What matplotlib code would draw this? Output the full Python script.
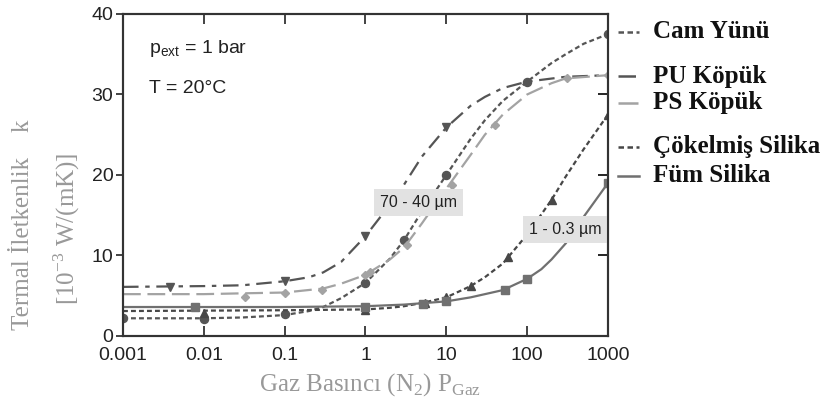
import matplotlib
matplotlib.use("Agg")
import matplotlib.pyplot as plt
from matplotlib.lines import Line2D

plt.rcParams['font.family'] = ['Liberation Sans', 'DejaVu Sans']
plt.rcParams['mathtext.fontset'] = 'custom'
plt.rcParams['mathtext.rm'] = 'Liberation Serif'
plt.rcParams['mathtext.sf'] = 'Liberation Sans'

# smooth curves (pressure in mbar, k in 1e-3 W/mK)
cam_x = [0.001, 0.01, 0.03, 0.1, 0.2, 0.3, 0.5, 1, 2, 3, 5, 10, 20, 30, 50, 100, 200, 300, 500, 1000]
cam_y = [2.2, 2.2, 2.3, 2.6, 3.1, 3.6, 4.7, 6.6, 9.6, 11.9, 15.5, 20.0, 24.5, 26.8, 29.2, 31.6,
         33.9, 35.0, 36.3, 37.5]
pu_x = [0.001, 0.01, 0.03, 0.1, 0.2, 0.3, 0.5, 1, 2, 3, 5, 10, 20, 30, 50, 100, 300, 1000]
pu_y = [6.1, 6.2, 6.3, 6.8, 7.3, 7.9, 9.2, 12.4, 16.3, 18.8, 22.3, 25.9, 28.6, 29.7, 30.8, 31.6,
        32.2, 32.4]
ps_x = [0.001, 0.01, 0.03, 0.1, 0.3, 0.5, 1, 2, 3, 5, 10, 20, 30, 50, 100, 200, 300, 1000]
ps_y = [5.2, 5.2, 5.3, 5.4, 5.9, 6.5, 7.6, 9.5, 11.0, 14.0, 18.3, 22.5, 25.0, 27.5, 30.0, 31.4,
        32.0, 32.4]
cok_x = [0.001, 0.1, 1, 2, 3, 5, 10, 20, 30, 50, 100, 200, 300, 500, 1000]
cok_y = [3.1, 3.2, 3.3, 3.5, 3.7, 4.1, 4.8, 6.2, 7.3, 9.0, 12.6, 16.9, 19.8, 23.2, 27.5]
fum_x = [0.001, 0.1, 1, 3, 10, 20, 50, 100, 150, 200, 300, 500, 1000]
fum_y = [3.6, 3.6, 3.7, 3.9, 4.3, 4.8, 5.7, 7.1, 8.3, 9.5, 11.5, 14.8, 19.0]

# measured points (markers)
cam_px = [0.001, 0.01, 0.1, 1, 3, 10, 100, 1000]
cam_py = [2.2, 2.1, 2.7, 6.6, 11.9, 20.0, 31.6, 37.5]
pu_px = [0.0038, 0.1, 1, 10]
pu_py = [6.1, 6.8, 12.4, 26.0]
ps_px = [0.032, 0.1, 0.29, 1.0, 1.15, 3.3, 11.6, 40, 310, 1000]
ps_py = [4.9, 5.3, 5.7, 7.6, 8.0, 11.3, 18.7, 26.2, 32.0, 32.4]
cok_px = [0.01, 1, 5.4, 10, 20, 58, 205, 1000]
cok_py = [2.9, 3.2, 4.1, 4.9, 6.2, 9.8, 16.9, 27.5]
fum_px = [0.0078, 1, 5.2, 10, 53, 100, 1000]
fum_py = [3.6, 3.6, 4.0, 4.4, 5.7, 7.1, 19.0]

labels = ['Cam Yünü', 'PU Köpük', 'PS Köpük', 'Çökelmiş Silika', 'Füm Silika']
xticks = [0.001, 0.01, 0.1, 1, 10, 100, 1000]
xticklabels = ['0.001', '0.01', '0.1', '1', '10', '100', '1000']
yticks = [0, 10, 20, 30, 40]

series = [
    (cam_x, cam_y, cam_px, cam_py, '#555555', (0, (2.2, 1.4)), 'o'),
    (pu_x, pu_y, pu_px, pu_py, '#555555', (0, (7, 3, 2, 3)), 'v'),
    (ps_x, ps_y, ps_px, ps_py, '#a3a3a3', (0, (8, 3)), 'D'),
    (cok_x, cok_y, cok_px, cok_py, '#474747', (0, (2.2, 1.4)), '^'),
    (fum_x, fum_y, fum_px, fum_py, '#707070', '-', 's'),
]

fig = plt.figure(figsize=(8.35, 4.01), dpi=100)
ax = fig.add_axes([0.1473, 0.1621, 0.5808, 0.803])

for cx, cy, px, py, col, ls, mk in series:
    ax.plot(cx, cy, color=col, linestyle=ls, linewidth=1.6)
    ms = 4.3 if mk == 'D' else 5.8
    ax.plot(px, py, linestyle='none', marker=mk, color=col, markersize=ms)

ax.set_xscale('log')
ax.set_xlim(0.001, 1000)
ax.set_ylim(0, 40)
ax.set_xticks(xticks)
ax.set_xticklabels(xticklabels)
ax.set_yticks(yticks)
ax.minorticks_off()
ax.tick_params(axis='both', labelsize=14, colors='#222222', width=1.2)
ax.tick_params(axis='x', direction='in', length=7, top=True, pad=8)
ax.tick_params(axis='y', direction='out', length=5, pad=2)
# inward ticks on right side
ax2 = ax.twinx()
ax2.set_ylim(0, 40)
ax2.set_yticks([10, 20, 30])
ax2.tick_params(axis='y', direction='in', length=7, labelright=False, width=1.2)
for a in (ax, ax2):
    for s in a.spines.values():
        s.set_linewidth(1.5)
        s.set_color('#333333')

ax.text(0.0021, 35.7, r'p$_{\mathsf{ext}}$ = 1 bar', fontsize=14, color='#222222', va='center')
ax.text(0.0021, 30.8, 'T = 20°C', fontsize=14, color='#222222', va='center')

box = dict(boxstyle='square,pad=0.38', facecolor='#e2e2e2', edgecolor='none')
ax.text(4.5, 16.6, '70 - 40 µm', fontsize=11.5, ha='center', va='center', bbox=box, color='#222222')
ax.text(300, 13.2, '1 - 0.3 µm', fontsize=11.5, ha='center', va='center', bbox=box, color='#222222')

ax.set_xlabel(r'Gaz Basıncı (N$_2$) P$_{\mathrm{Gaz}}$', family='Liberation Serif',
              fontsize=18, color='#999999')
ax.xaxis.set_label_coords(0.51, -0.11)
fig.text(0.027, 0.44, 'Termal İletkenlik    k', family='Liberation Serif', fontsize=18,
         color='#999999', rotation=90, ha='center', va='center')
fig.text(0.08, 0.43, r'[10$^{-3}$ W/(mK)]', family='Liberation Serif', fontsize=18,
         color='#999999', rotation=90, ha='center', va='center')

# legend entries placed beside the axes
leg_y = [32, 76, 103, 147, 176]
for (cx, cy, px, py, col, ls, mk), lab, yp in zip(series, labels, leg_y):
    yf = 1 - yp / 401
    fig.add_artist(Line2D([618 / 835, 639 / 835], [yf, yf], color=col, linestyle=ls,
                          linewidth=1.8))
    fig.text(653 / 835, yf, lab, family='Liberation Serif', fontsize=18, fontweight='bold',
             color='#111111', va='center', ha='left')

fig.savefig('out.png', dpi=100)
